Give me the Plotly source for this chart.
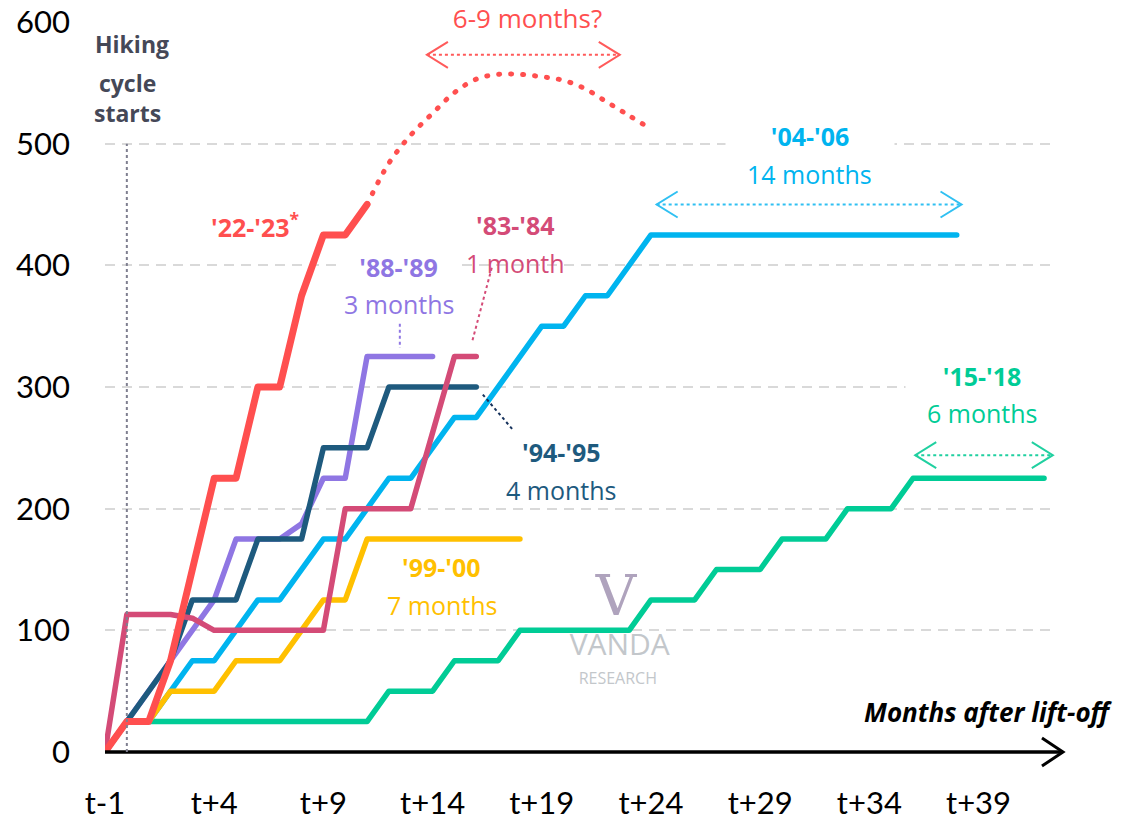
import plotly.graph_objects as go

# ---------------- data (cumulative hikes, bp) ----------------
tick_vals = [-1, 4, 9, 14, 19, 24, 29, 34, 39]
tick_text = ["t-1", "t+4", "t+9", "t+14", "t+19", "t+24", "t+29", "t+34", "t+39"]
y_ticks = [0, 100, 200, 300, 400, 500, 600]

m_2223 = [-1, 0, 1, 2, 3, 4, 5, 6, 7, 8, 9, 10, 11]
v_2223 = [0, 25, 25, 75, 150, 225, 225, 300, 300, 375, 425, 425, 450]

m_2223_proj = [11, 12, 13, 14, 15, 16, 17, 18, 19, 20, 21, 22, 23, 24]
v_2223_proj = [450, 484, 507, 525, 542, 553, 557, 557, 555, 552, 545, 534, 523, 512]

m_8889 = [-1, 0, 1, 2, 3, 4, 5, 6, 7, 8, 9, 10, 11, 12, 13, 14]
v_8889 = [0, 25, 50, 75, 100, 125, 175, 175, 175, 187.5, 225, 225, 325, 325, 325, 325]

m_9495 = [-1, 0, 1, 2, 3, 4, 5, 6, 7, 8, 9, 10, 11, 12, 13, 14, 15, 16]
v_9495 = [0, 25, 50, 75, 125, 125, 125, 175, 175, 175, 250, 250, 250, 300, 300, 300, 300, 300]

m_8384 = [-1, 0, 1, 2, 3, 4, 5, 6, 7, 8, 9, 10, 11, 12, 13, 14, 15, 16]
v_8384 = [0, 113, 113, 113, 110, 100, 100, 100, 100, 100, 100, 200, 200, 200, 200, 262.5, 325, 325]

m_9900 = [-1, 0, 1, 2, 3, 4, 5, 6, 7, 8, 9, 10, 11, 12, 13, 14, 15, 16, 17, 18]
v_9900 = [0, 25, 25, 50, 50, 50, 75, 75, 75, 100, 125, 125, 175, 175, 175, 175, 175, 175, 175, 175]

m_0406 = [-1, 0, 1, 2, 3, 4, 5, 6, 7, 8, 9, 10, 11, 12, 13, 14, 15, 16, 17, 18, 19,
          20, 21, 22, 23, 24, 25, 26, 27, 28, 29, 30, 31, 32, 33, 34, 35, 36, 37, 38]
v_0406 = [0, 25, 25, 50, 75, 75, 100, 125, 125, 150, 175, 175, 200, 225, 225, 250, 275, 275, 300, 325, 350,
          350, 375, 375, 400, 425, 425, 425, 425, 425, 425, 425, 425, 425, 425, 425, 425, 425, 425, 425]

m_1518 = [-1, 0, 1, 2, 3, 4, 5, 6, 7, 8, 9, 10, 11, 12, 13, 14, 15, 16, 17, 18, 19, 20, 21,
          22, 23, 24, 25, 26, 27, 28, 29, 30, 31, 32, 33, 34, 35, 36, 37, 38, 39, 40, 41, 42]
v_1518 = [0, 25, 25, 25, 25, 25, 25, 25, 25, 25, 25, 25, 25, 50, 50, 50, 75, 75, 75, 100, 100, 100, 100,
          100, 100, 125, 125, 125, 150, 150, 150, 175, 175, 175, 200, 200, 200, 225, 225, 225, 225, 225, 225, 225]

# ---------------- styles ----------------
C_RED = "#FF4F4F"
C_PURPLE = "#8F76E3"
C_DARK = "#1E5A7E"
C_PINK = "#D44B77"
C_YELLOW = "#FFC000"
C_LBLUE = "#00B4EF"
C_GREEN = "#00CC96"
ANN_FONT = "Open Sans"

fig = go.Figure()

# watermark (below the lines)
fig.add_trace(go.Scatter(x=[22.4], y=[124], mode="text", text=["V"], hoverinfo="skip",
                         textfont=dict(family="DejaVu Serif", size=56, color="#AFA3BD"), showlegend=False))
fig.add_trace(go.Scatter(x=[22.57], y=[86], mode="text", text=["VANDA"], hoverinfo="skip",
                         textfont=dict(family="Open Sans", size=30, color="#C3C7CB"), showlegend=False))
fig.add_trace(go.Scatter(x=[22.48], y=[59.5], mode="text", text=["RESEARCH"], hoverinfo="skip",
                         textfont=dict(family="Open Sans", size=16, color="#C3C7CB"), showlegend=False))

def add_line(xs, ys, color, width=5.5, dash=None, shape="linear"):
    fig.add_trace(go.Scatter(x=xs, y=ys, mode="lines", hoverinfo="skip", showlegend=False,
                             line=dict(color=color, width=width, dash=dash, shape=shape)))

add_line(m_1518, v_1518, C_GREEN)
add_line(m_0406, v_0406, C_LBLUE)
add_line(m_9900, v_9900, C_YELLOW)
add_line(m_8889, v_8889, C_PURPLE)
add_line(m_9495, v_9495, C_DARK)
add_line(m_8384, v_8384, C_PINK)
add_line(m_2223_proj, v_2223_proj, C_RED, width=5, dash="1px,11px", shape="spline")
add_line(m_2223, v_2223, C_RED, width=7)

# ---------------- shapes ----------------
shapes = []
# x axis line with arrow
shapes.append(dict(type="line", xref="paper", yref="paper", x0=0, x1=1.0084, y0=0, y1=0,
                   line=dict(color="black", width=3.5)))
shapes.append(dict(type="path", xref="paper", yref="paper", xsizemode="pixel", ysizemode="pixel",
                   xanchor=1.0084, yanchor=0, path="M -21,14 L 0,0 L -21,-14",
                   line=dict(color="black", width=3)))
# hiking cycle starts line
shapes.append(dict(type="line", xref="x", yref="y", x0=0, x1=0, y0=0, y1=500,
                   line=dict(color="#7F7F90", width=2, dash="dot")))
# leader lines
shapes.append(dict(type="line", x0=12.5, x1=12.5, y0=352, y1=332, line=dict(color=C_PURPLE, width=2, dash="dot")))
shapes.append(dict(type="line", x0=16.71, x1=15.8, y0=398, y1=336.5, line=dict(color=C_PINK, width=2, dash="dot")))
shapes.append(dict(type="line", x0=16.3, x1=17.67, y0=293.7, y1=265, line=dict(color="#16325C", width=2, dash="dot")))

def double_arrow(xa, xb, y, color):
    shapes.append(dict(type="line", x0=xa, x1=xb, y0=y, y1=y, line=dict(color=color, width=2, dash="dot")))
    shapes.append(dict(type="path", xsizemode="pixel", ysizemode="pixel", xanchor=xa, yanchor=y,
                       path="M 21,13 L 0,0 L 21,-13", line=dict(color=color, width=2)))
    shapes.append(dict(type="path", xsizemode="pixel", ysizemode="pixel", xanchor=xb, yanchor=y,
                       path="M -21,13 L 0,0 L -21,-13", line=dict(color=color, width=2)))

double_arrow(13.74, 22.57, 573, "#FF5A5A")
double_arrow(m_0406[v_0406.index(425)] + 0.26, m_0406[-1] + 0.22, 450, "#30C0F2")
double_arrow(m_1518[v_1518.index(225)] + 0.1, m_1518[-1] + 0.4, 244, "#20D0A0")

# ---------------- annotations ----------------
anns = []
def ann(x, y, text, color, size=25, bold=False, bg=None, width=None, height=None,
        family=ANN_FONT, yref="y"):
    t = f"<b>{text}</b>" if bold else text
    d = dict(x=x, y=y, xref="x", yref=yref, text=t, showarrow=False,
             xanchor="center", yanchor="middle",
             font=dict(family=family, size=size, color=color), borderpad=0)
    if bg:
        d["bgcolor"] = bg
    if width:
        d["width"] = width
    if height:
        d["height"] = height
    anns.append(d)

ann(5.86, 433, "'22-'23<sup>*</sup>", C_RED, size=25, bold=True)
ann(12.45, 398.7, "'88-'89", C_PURPLE, size=25, bold=True, bg="white", width=119)
ann(12.45, 368.3, "3 months", C_PURPLE)
ann(17.81, 433.4, "'83-'84", C_PINK, size=25, bold=True)
ann(17.81, 402.2, "1 month", C_PINK)
ann(19.92, 246.8, "'94-'95", C_DARK, size=25, bold=True)
ann(19.87, 215.6, "4 months", C_DARK)
ann(14.42, 152.3, "'99-'00", C_YELLOW, size=25, bold=True)
ann(14.42, 121.1, "7 months", C_YELLOW)
ann(31.27, 506.5, "'04-'06", C_LBLUE, size=25, bold=True, bg="white", width=168)
ann(31.27, 475.3, "14 months", C_LBLUE)
ann(39.14, 309.3, "'15-'18", C_GREEN, size=25, bold=True, bg="white", width=152)
ann(39.14, 278.9, "6 months", C_GREEN)
ann(18.36, 603.5 / 600, "6-9 months?", C_RED, size=26, bg="white", width=185, height=30, yref="paper")
ann(0.22, 581.6, "Hiking", "#454857", size=23, bold=True, bg="white", width=112, height=52)
ann(0.05, 537.5, "cycle<br>starts", "#454857", size=23, bold=True)
ann(39.46, 33.2, "<b><i>Months after lift-off</i></b>", "black", size=26)

fig.update_layout(
    width=1130, height=820,
    margin=dict(l=105, r=75, t=22, b=68, pad=0, autoexpand=False),
    plot_bgcolor="white", paper_bgcolor="white",
    showlegend=False,
    shapes=shapes, annotations=anns,
    xaxis=dict(range=[-1, 42.5], tickmode="array", tickvals=tick_vals, ticktext=tick_text,
               showgrid=False, zeroline=False, showline=False, ticks="", automargin=False,
               ticklabelstandoff=30, tickfont=dict(family="Lato", size=31, color="black")),
    yaxis=dict(range=[0, 600], tickmode="array", tickvals=y_ticks, showgrid=True,
               gridcolor="#D9D9D9", gridwidth=2, griddash="10px,7px", zeroline=False,
               showline=False, ticks="", ticklabelstandoff=34, automargin=False,
               tickfont=dict(family="Lato", size=31, color="black")),
)

post = ("document.body.style.margin='0';"
        "document.querySelectorAll('.scatterlayer .js-line').forEach(function(p){"
        "p.style.strokeLinecap='round';p.style.strokeLinejoin='round';});")
fig.write_html("out.html", post_script=post, config={"displayModeBar": False})
